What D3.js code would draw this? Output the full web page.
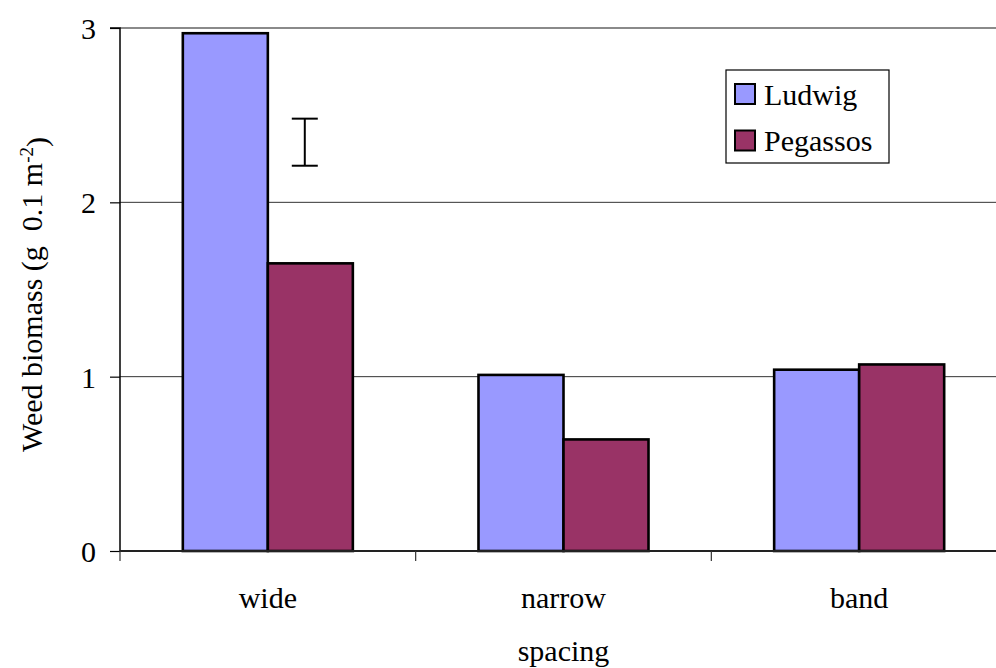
<!DOCTYPE html>
<html>
<head>
<meta charset="utf-8">
<script src="https://cdn.jsdelivr.net/npm/d3@7"></script>
</head>
<body style="margin:0">
<svg id="chart" width="996" height="668" font-family="Liberation Serif" font-size="30" style="font-family: 'Liberation Serif'; font-size: 30px;"></svg>
<script>
const categories = ["wide", "narrow", "band"];
const seriesNames = ["Ludwig", "Pegassos"];
const ludwig = [2.97, 1.01, 1.04];
const pegassos = [1.65, 0.64, 1.07];
const seriesColors = ["#9999FF", "#993366"];
const yTicks = [0, 1, 2, 3];
const errorBar = { category: "wide", position: 0.625, low: 2.21, high: 2.48 };
const yTitle = "Weed biomass (g\u00a0\u00a00.1 m";
const xTitle = "spacing";

(function () {
const svg = d3.select("#chart");
const pLeft = 120, pRight = 1007, pTop = 28, pBottom = 551;
function font(sel, size) {
  return sel.attr("font-family", "Liberation Serif").attr("font-size", size || 30)
    .style("font-family", "'Liberation Serif'").style("font-size", (size || 30) + "px");
}

const x0 = d3.scaleBand().domain(categories).range([pLeft, pRight]).paddingInner(0).paddingOuter(0);
const x1 = d3.scaleBand().domain(seriesNames).range([0, x0.bandwidth()]).paddingInner(0).paddingOuter(0.739);
const y = d3.scaleLinear().domain([0, 3]).range([pBottom, pTop]);

// gridlines
svg.append("g").selectAll("line").data(yTicks.filter(t => t > 0)).join("line")
  .attr("x1", pLeft).attr("x2", pRight)
  .attr("y1", d => y(d)).attr("y2", d => y(d))
  .attr("stroke", d => d === 3 ? "#8a8a8a" : "#333")
  .attr("stroke-width", d => d === 3 ? 2 : 1);

// bars
const data = categories.map((c, i) => ({ cat: c, vals: [ludwig[i], pegassos[i]] }));
const groups = svg.append("g").selectAll("g").data(data).join("g")
  .attr("transform", d => `translate(${x0(d.cat)},0)`);
groups.selectAll("rect").data(d => d.vals.map((v, j) => ({ s: seriesNames[j], v, j }))).join("rect")
  .attr("x", d => x1(d.s))
  .attr("width", x1.bandwidth())
  .attr("y", d => y(d.v))
  .attr("height", d => y(0) - y(d.v))
  .attr("fill", d => seriesColors[d.j])
  .attr("stroke", "#000")
  .attr("stroke-width", 2.6);

// y axis
const yAxis = d3.axisLeft(y).tickValues(yTicks).tickFormat(d3.format("d")).tickSize(10).tickPadding(14);
const yg = svg.append("g").attr("transform", `translate(${pLeft},0)`).call(yAxis);
font(yg);
yg.select(".domain").attr("stroke", "#000").attr("stroke-width", 1.5).attr("d", `M-10,${pTop}H0V${pBottom}`);
yg.selectAll(".tick line").attr("stroke", "#000").attr("stroke-width", 1.2);
font(yg.selectAll(".tick text")).attr("fill", "#000").attr("dy", "0.35em");

// x axis (ticks at category boundaries)
const xg = svg.append("g");
xg.append("line").attr("x1", pLeft).attr("x2", pRight).attr("y1", pBottom).attr("y2", pBottom)
  .attr("stroke", "#222").attr("stroke-width", 2);
const boundaries = categories.map(c => x0(c)).concat([x0(categories[categories.length - 1]) + x0.bandwidth()]);
xg.selectAll("line.tk").data(boundaries).join("line").attr("class", "tk")
  .attr("x1", d => d).attr("x2", d => d).attr("y1", pBottom).attr("y2", pBottom + 10)
  .attr("stroke", "#333").attr("stroke-width", 1.2);
font(xg.selectAll("text").data(categories).join("text")
  .attr("x", d => x0(d) + x0.bandwidth() / 2)
  .attr("y", 608)
  .attr("text-anchor", "middle"))
  .text(d => d);

// x title
font(svg.append("text").attr("x", (pLeft + pRight) / 2).attr("y", 661).attr("text-anchor", "middle"))
  .text(xTitle);

// y title
const yt = font(svg.append("text").attr("transform", `translate(42,${(pTop + pBottom) / 2 + 5}) rotate(-90)`)
  .attr("text-anchor", "middle"));
yt.append("tspan").text(yTitle);
font(yt.append("tspan").attr("dy", "-0.45em"), 19).text("-2");
yt.append("tspan").attr("dy", "0.45em").text(")");

// error bar
const ex = x0(errorBar.category) + errorBar.position * x0.bandwidth();
const eg = svg.append("g").attr("stroke", "#000").attr("stroke-width", 2);
eg.append("line").attr("x1", ex).attr("x2", ex).attr("y1", y(errorBar.high)).attr("y2", y(errorBar.low));
eg.append("line").attr("x1", ex - 13).attr("x2", ex + 13).attr("y1", y(errorBar.high)).attr("y2", y(errorBar.high));
eg.append("line").attr("x1", ex - 13).attr("x2", ex + 13).attr("y1", y(errorBar.low)).attr("y2", y(errorBar.low));

// legend
const lg = svg.append("g");
lg.append("rect").attr("x", 726).attr("y", 70).attr("width", 163).attr("height", 93)
  .attr("fill", "#fff").attr("stroke", "#000").attr("stroke-width", 1.2);
const items = lg.selectAll("g").data(seriesNames).join("g")
  .attr("transform", (d, i) => `translate(0,${i * 46.5})`);
items.append("rect").attr("x", 735).attr("y", 84).attr("width", 20).attr("height", 20)
  .attr("fill", (d, i) => seriesColors[i]).attr("stroke", "#000").attr("stroke-width", 2);
font(items.append("text").attr("x", 764).attr("y", 104.5)).text(d => d);
})();
</script>
</body>
</html>
